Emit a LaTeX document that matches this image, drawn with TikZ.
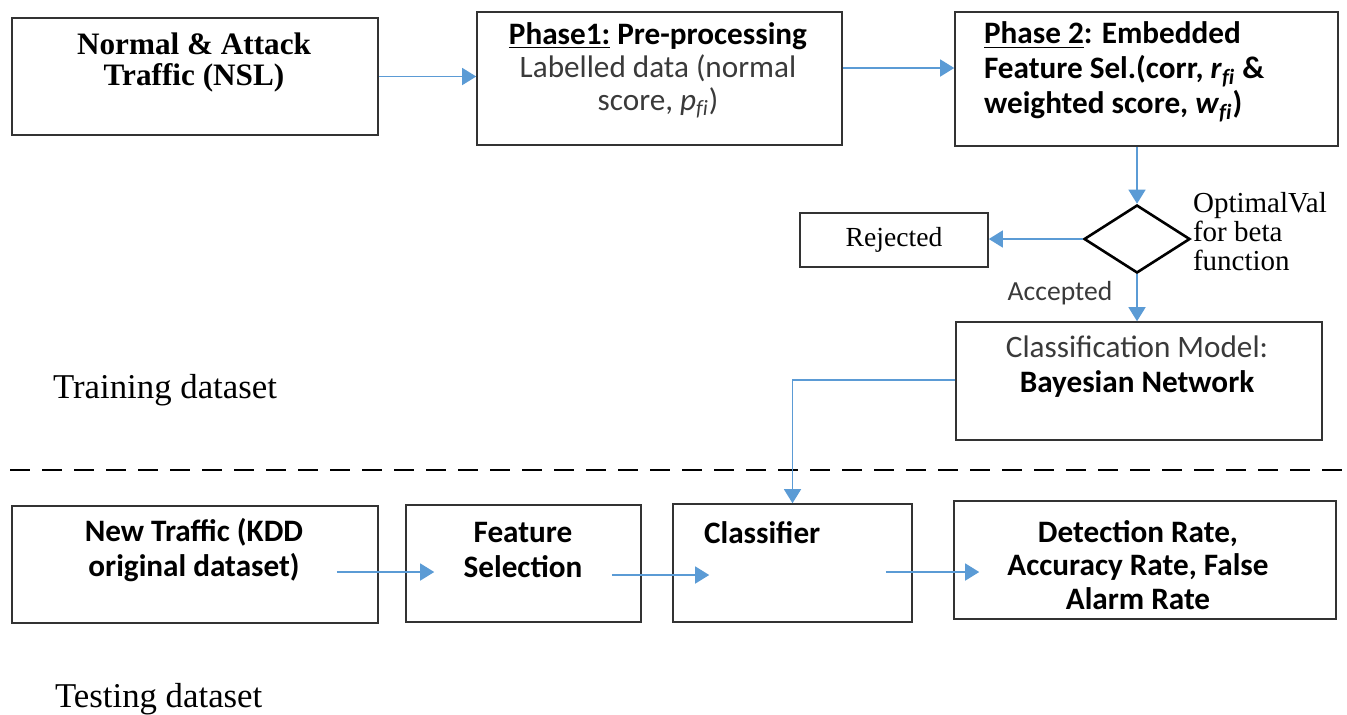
\documentclass[tikz,border=0pt]{standalone}
\usepackage{fontspec}
\setmainfont{Liberation Serif}
\newfontfamily\calibri{Carlito}
\usetikzlibrary{arrows.meta,shapes.geometric}
\definecolor{flowblue}{HTML}{5B9BD5}
\definecolor{softtext}{HTML}{3A3A3A}
\tikzset{
  box/.style={draw=black!80,line width=0.8pt,minimum width=#1,inner sep=0pt},
  flow/.style={draw=flowblue,line width=0.7pt,-{Triangle[length=7pt,width=8.5pt]}},
  serifbig/.style={font=\fontsize{15.6}{15.5}\selectfont\bfseries,align=center},
  sanstext/.style={font=\calibri\fontsize{15.6}{16.8}\selectfont,align=center},
  sansbold/.style={font=\calibri\fontsize{15.6}{17.2}\selectfont\bfseries,align=center}
}
\newcommand{\fisub}[1]{\textit{#1}\textsubscript{\textit{f\kern0pt i}}}
\begin{document}
\begin{tikzpicture}[x=0.5pt,y=-0.5pt]
\useasboundingbox (0,0) rectangle (1347,714);

\node[box=183pt,minimum height=58.5pt] (nsl) at (195,76.5) {};
\node[box=182.5pt,minimum height=66.5pt] (phase1) at (659.5,78.5) {};
\node[box=191.5pt,minimum height=67pt] (phase2) at (1146.5,79) {};
\node[diamond,draw=black,line width=1.3pt,minimum width=53pt,minimum height=34pt,inner sep=0pt,aspect=1.5] (gate) at (1137,239) {};
\node[box=94pt,minimum height=27pt,font=\fontsize{13.8}{15}\selectfont] (rejected) at (894,240) {Rejected};
\node[box=183pt,minimum height=59pt] (model) at (1139,381) {};
\node[box=183pt,minimum height=58.5pt] (traffic) at (195,564.5) {};
\node[box=117.5pt,minimum height=58.5pt] (featsel) at (523.5,563.5) {};
\node[box=119.5pt,minimum height=59pt] (classifier) at (792.5,563) {};
\node[box=191pt,minimum height=59pt] (rates) at (1145,560) {};

\node[serifbig] (nsl-t) at (194,62) {Normal \& Attack\\Traffic (NSL)};
\node[sanstext,font=\calibri\fontsize{15.6}{16.5}\selectfont] (phase1-t) at (658,70) {\textbf{\underline{Phase1:} Pre-processing}\\{\color{softtext}Labelled data (normal}\\{\color{softtext}score, \fisub{p})}};
\node[sanstext,align=left,anchor=west,font=\calibri\fontsize{15.6}{17.5}\selectfont\bfseries] (phase2-t) at (977,72) {\underline{Phase 2}: Embedded\\Feature Sel.(corr, \fisub{r} \&\\weighted score, \fisub{w})};
\node[anchor=west,align=left,font=\fontsize{14.5}{14.5}\selectfont] (gate-t) at (1186,232) {OptimalVal\\for beta\\function};
\node[font=\calibri\fontsize{13.8}{15}\selectfont,text=softtext] (accepted) at (1060,293) {Accepted};
\node[sanstext,font=\calibri\fontsize{15.6}{17.5}\selectfont] (model-t) at (1137,367) {{\color{softtext}Classification Model:}\\\textbf{Bayesian Network}};
\node[anchor=west,font=\fontsize{17.4}{18}\selectfont] (training) at (46,390) {Training dataset};
\node[sansbold,font=\calibri\fontsize{15.6}{17.5}\selectfont\bfseries] (traffic-t) at (194,550) {New Traffic (KDD\\original dataset)};
\node[sansbold] (featsel-t) at (523,550) {Feature\\Selection};
\node[sansbold,anchor=west] (classifier-t) at (697,533) {Classifier};
\node[sansbold,font=\calibri\fontsize{15.6}{16.75}\selectfont\bfseries] (rates-t) at (1138,565) {Detection Rate,\\Accuracy Rate, False\\Alarm Rate};
\node[anchor=west,font=\fontsize{17.4}{18}\selectfont] (testing) at (48,699) {Testing dataset};

\draw[dashed,line width=1.4pt,dash pattern=on 10pt off 6pt] (10,470) -- (1347,470);

\coordinate (tf-out) at ([xshift=-21pt,yshift=-3.75pt]traffic.east);
\coordinate (fs-out) at ([xshift=-15pt,yshift=-5.75pt]featsel.east);
\coordinate (cl-out) at ([xshift=-13.5pt,yshift=-4.5pt]classifier.east);

\draw[flow] (nsl.east) -- (nsl.east -| phase1.west);
\draw[flow] ([yshift=5.25pt]phase1.east) -- ([yshift=5.25pt]phase1.east -| phase2.west);
\draw[flow] (gate.north |- phase2.south) -- (gate.north);
\draw[flow] (gate.west) -- (gate.west -| rejected.east);
\draw[flow] (gate.south) -- (gate.south |- model.north);
\draw[flow] ([yshift=0.5pt]model.west) -| (classifier.north);
\draw[flow] (tf-out) -- ([xshift=14.5pt]tf-out -| featsel.west);
\draw[flow] (fs-out) -- ([xshift=18.5pt]fs-out -| classifier.west);
\draw[flow] (cl-out) -- ([xshift=13pt]cl-out -| rates.west);
\end{tikzpicture}
\end{document}
